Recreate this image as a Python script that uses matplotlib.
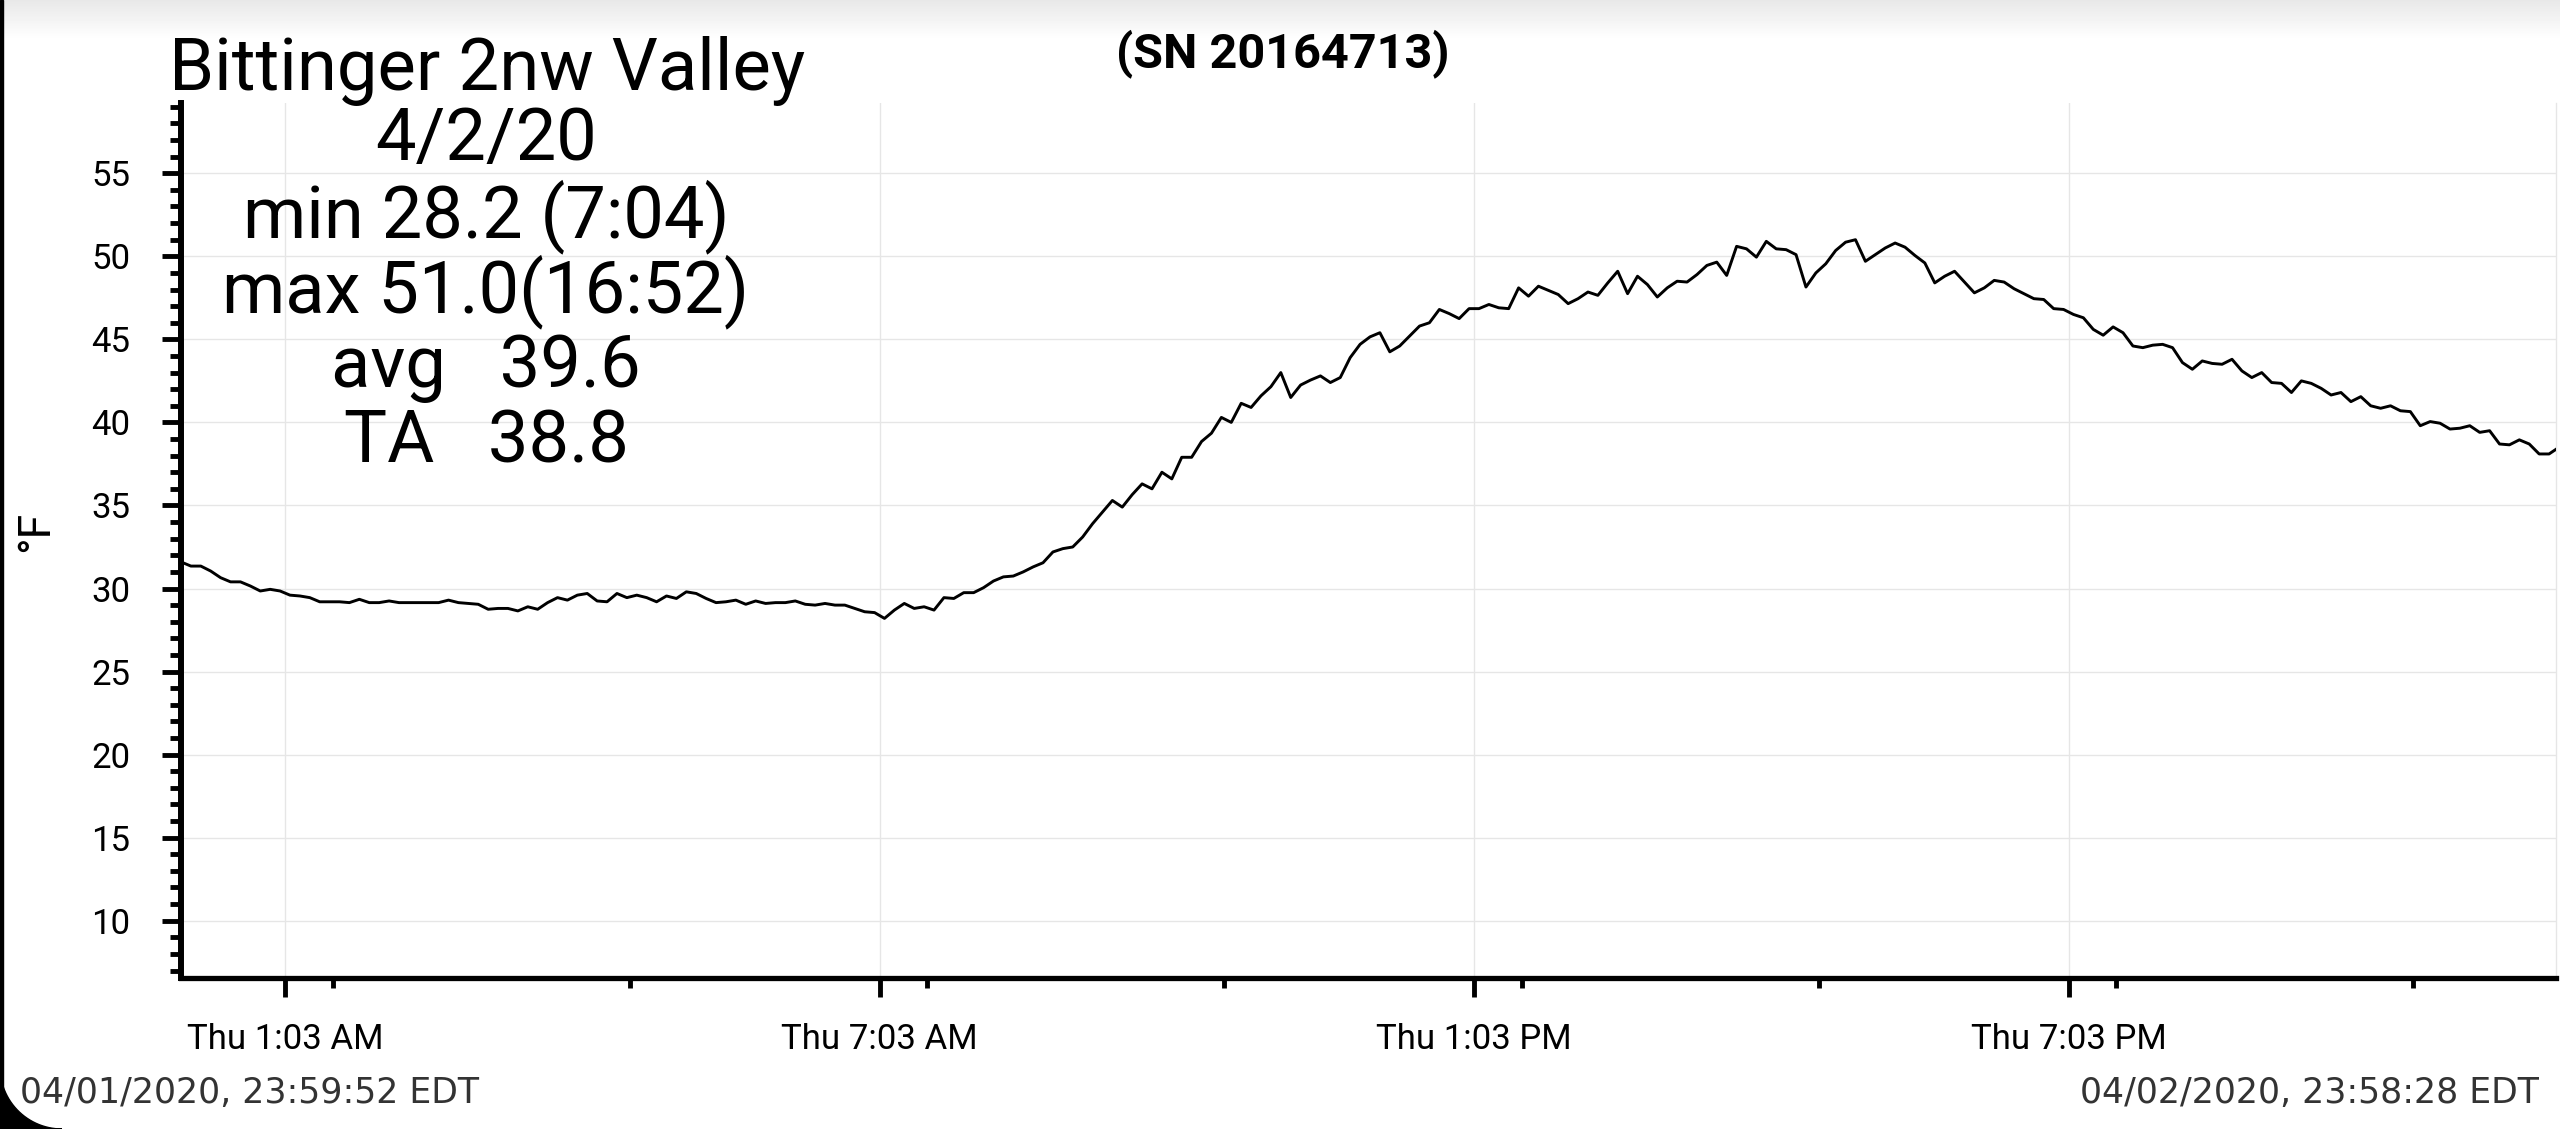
import numpy as np
import matplotlib
matplotlib.use("Agg")
import matplotlib.pyplot as plt
from matplotlib.ticker import MultipleLocator, FixedLocator
from matplotlib.patches import Rectangle, Polygon

plt.rcParams['font.family'] = ['Roboto', 'DejaVu Sans']

# dados (leitura a cada 6 min, inicio 04/01 23:59:52)
STEP_H = 0.1
temps = [
    31.6, 31.35, 31.35, 31.05, 30.65, 30.4, 30.4, 30.15, 29.85, 29.95,
    29.85, 29.6, 29.55, 29.45, 29.2, 29.2, 29.2, 29.15, 29.35, 29.15,
    29.15, 29.25, 29.15, 29.15, 29.15, 29.15, 29.15, 29.3, 29.15, 29.1,
    29.05, 28.75, 28.8, 28.8, 28.65, 28.9, 28.75, 29.15, 29.45, 29.3,
    29.6, 29.7, 29.25, 29.2, 29.7, 29.45, 29.6, 29.45, 29.2, 29.55,
    29.4, 29.8, 29.7, 29.4, 29.15, 29.2, 29.3, 29.05, 29.25, 29.1,
    29.15, 29.15, 29.25, 29.05, 29.0, 29.1, 29.0, 29.0, 28.8, 28.6,
    28.55, 28.2, 28.7, 29.1, 28.8, 28.9, 28.7, 29.45, 29.4, 29.75,
    29.75, 30.05, 30.45, 30.7, 30.75, 31.0, 31.3, 31.55, 32.2, 32.4,
    32.5, 33.1, 33.9, 34.6, 35.3, 34.9, 35.65, 36.3, 36.0, 37.0,
    36.6, 37.9, 37.9, 38.85, 39.35, 40.3, 40.0, 41.15, 40.9, 41.6,
    42.15, 43.0, 41.5, 42.25, 42.55, 42.8, 42.4, 42.7, 43.9, 44.7,
    45.15, 45.4, 44.25, 44.6, 45.2, 45.8, 46.0, 46.8, 46.55, 46.25,
    46.85, 46.85, 47.1, 46.9, 46.85, 48.1, 47.6, 48.2, 47.95, 47.7,
    47.15, 47.45, 47.85, 47.65, 48.4, 49.1, 47.75, 48.8, 48.3, 47.55,
    48.1, 48.5, 48.45, 48.9, 49.45, 49.65, 48.85, 50.6, 50.45, 49.95,
    50.9, 50.45, 50.4, 50.1, 48.15, 49.0, 49.55, 50.35, 50.85, 51.0,
    49.7, 50.1, 50.5, 50.8, 50.55, 50.05, 49.6, 48.4, 48.8, 49.1,
    48.45, 47.8, 48.1, 48.55, 48.45, 48.05, 47.75, 47.45, 47.4, 46.85,
    46.8, 46.5, 46.3, 45.6, 45.25, 45.75, 45.4, 44.6, 44.5, 44.65,
    44.7, 44.5, 43.6, 43.2, 43.7, 43.55, 43.5, 43.8, 43.1, 42.7,
    43.0, 42.4, 42.35, 41.8, 42.5, 42.35, 42.05, 41.65, 41.8, 41.25,
    41.55, 41.0, 40.85, 41.0, 40.7, 40.65, 39.8, 40.05, 39.95, 39.6,
    39.65, 39.8, 39.4, 39.5, 38.7, 38.65, 38.95, 38.7, 38.1, 38.1,
    38.5,
]
hours = np.arange(len(temps)) * STEP_H

tick_hours = [1.05, 7.05, 13.05, 19.05]
tick_labels = ["Thu 1:03 AM", "Thu 7:03 AM", "Thu 1:03 PM", "Thu 7:03 PM"]
minor_hours = [1.53, 4.53, 7.53, 10.53, 13.53, 16.53, 19.53, 22.53]

station = "Bittinger 2nw Valley"
serial = "(SN 20164713)"
stats_lines = ["4/2/20", "min 28.2 (7:04)", "max 51.0(16:52)",
               "avg   39.6", "TA   38.8"]
start_stamp = "04/01/2020, 23:59:52 EDT"
end_stamp = "04/02/2020, 23:58:28 EDT"

W, H = 2560, 1129
fig = plt.figure(figsize=(W / 100, H / 100), dpi=100, facecolor='white')

def fx(x):
    return x / W

def fy(y):
    return 1 - y / H

ax = fig.add_axes([fx(181), fy(978), (2556 - 181) / W, (978 - 103) / H])
ax.plot(hours, temps, color='black', lw=2.1, zorder=3)

ax.set_xlim(0.0, 23.97)
ax.set_ylim(6.55, 59.23)

ax.xaxis.set_major_locator(FixedLocator(tick_hours))
ax.set_xticklabels(tick_labels)
ax.xaxis.set_minor_locator(FixedLocator(minor_hours))
ax.yaxis.set_major_locator(MultipleLocator(5))
ax.yaxis.set_minor_locator(MultipleLocator(1))

ax.grid(which='major', color='#e6e6e6', lw=1.0, zorder=0)
ax.set_axisbelow(True)

ax.spines['top'].set_visible(False)
ax.spines['right'].set_color('#e6e6e6')
ax.spines['right'].set_linewidth(1.0)
ax.spines['left'].set_linewidth(4.3)
ax.spines['bottom'].set_linewidth(3.8)

ax.tick_params(axis='y', which='major', direction='out', length=13.7, width=3.5,
               pad=23, labelsize=25, colors='black')
ax.tick_params(axis='y', which='minor', direction='out', length=8, width=3.5)
ax.tick_params(axis='x', which='major', direction='out', length=13.5, width=3.5,
               pad=19, labelsize=25, colors='black')
ax.tick_params(axis='x', which='minor', direction='out', length=7.4, width=3.5)

ax.set_ylabel("°F", fontsize=32, va='center')
ax.yaxis.set_label_coords(-0.061, 0.51)

# textos
fig.text(fx(169), fy(90), station, fontsize=52.2, ha='left', va='baseline')
fig.text(fx(1283), fy(67), serial, fontsize=35, fontweight='bold',
         ha='center', va='baseline')
baselines = [160, 237, 312, 387, 462]
for txt, yb in zip(stats_lines, baselines):
    fig.text(fx(486), fy(yb), txt, fontsize=52, ha='center', va='baseline')

fig.text(fx(20), fy(1103), start_stamp, fontsize=25, color='#333333',
         family='DejaVu Sans', ha='left', va='baseline')
fig.text(fx(2539), fy(1103), end_stamp, fontsize=25, color='#333333',
         family='DejaVu Sans', ha='right', va='baseline')

# moldura da captura de tela
gax = fig.add_axes([0, fy(40), 1, 40 / H])
gax.imshow(np.linspace(0.91, 1.0, 40)[:, None], cmap='gray', vmin=0, vmax=1,
           aspect='auto')
gax.axis('off')

fig.patches.append(Rectangle((0, 0), fx(3), 1, transform=fig.transFigure,
                             color='black'))
R = 62
ang = np.linspace(-np.pi / 2, -np.pi, 30)
corner = [(0, 0), (R, 0)] + [(R + R * np.cos(a), R + R * np.sin(a)) for a in ang]
corner = [(x / W, y / H) for x, y in corner]
fig.patches.append(Polygon(corner, closed=True, transform=fig.transFigure,
                           color='black'))

fig.savefig("out.png", dpi=100, facecolor='white')
